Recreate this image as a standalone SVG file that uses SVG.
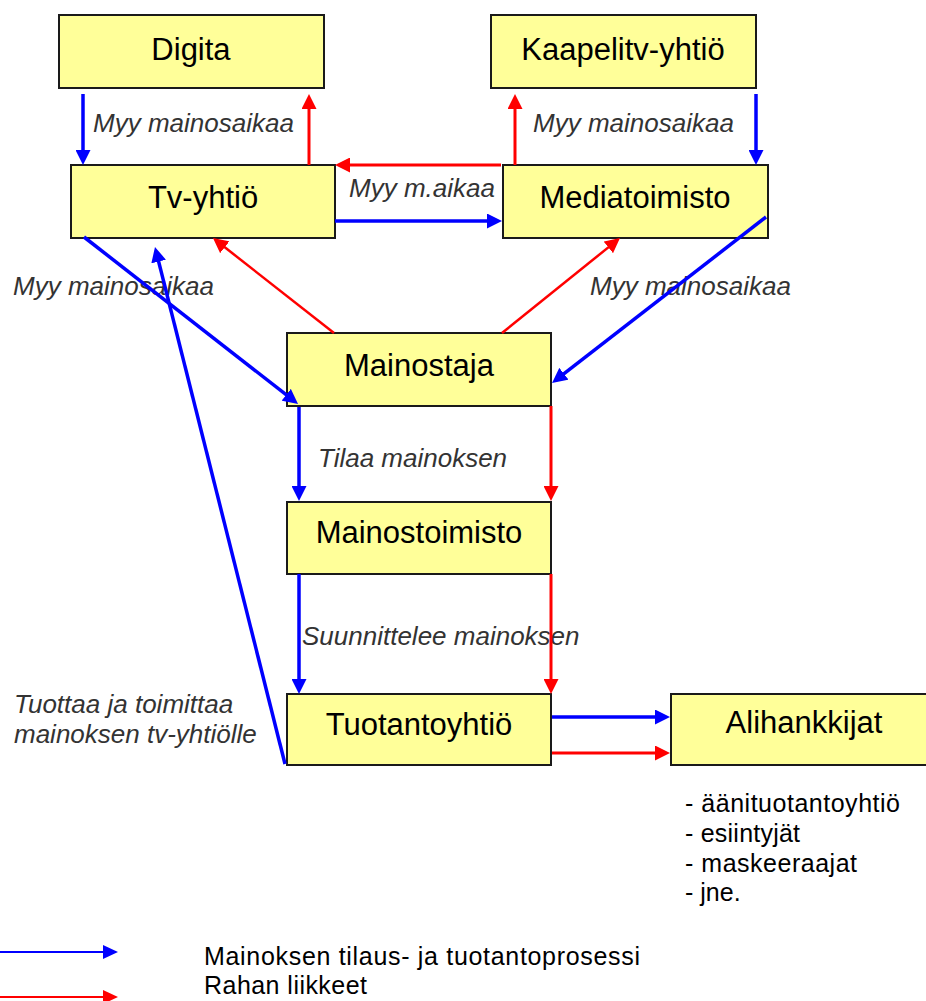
<svg xmlns="http://www.w3.org/2000/svg" width="926" height="1001" viewBox="0 0 926 1001">
<style>
.box{fill:#FFFF99;stroke:#1a1a1a;stroke-width:2}
.nl{font-family:"Liberation Sans",Arial,sans-serif;font-size:31px;fill:#000;text-anchor:middle}
.el{font-family:"Liberation Sans",Arial,sans-serif;font-size:26px;font-style:italic;fill:#333333}
.tx{font-family:"Liberation Sans",Arial,sans-serif;font-size:25px;fill:#000}
.b{stroke:#0000FF;stroke-width:3.5;fill:none;marker-end:url(#hb)}
.r{stroke:#FF0000;stroke-width:3;fill:none;marker-end:url(#hr)}
.rt{stroke:#FF0000;stroke-width:2.5;fill:none;marker-end:url(#hr)}
.lb{stroke:#0000FF;stroke-width:2;fill:none;marker-end:url(#lhb)}
.lr{stroke:#FF0000;stroke-width:2;fill:none;marker-end:url(#lhr)}
</style>
<defs>
<marker id="hb" markerUnits="userSpaceOnUse" markerWidth="15" markerHeight="15" refX="10" refY="7.5" orient="auto"><path d="M0,0 L15,7.5 L0,15 z" fill="#0000FF"/></marker>
<marker id="hr" markerUnits="userSpaceOnUse" markerWidth="15" markerHeight="15" refX="10" refY="7.5" orient="auto"><path d="M0,0 L15,7.5 L0,15 z" fill="#FF0000"/></marker>
<marker id="lhb" markerUnits="userSpaceOnUse" markerWidth="15" markerHeight="14" refX="10" refY="7" orient="auto"><path d="M0,0 L15,7 L0,14 z" fill="#0000FF"/></marker>
<marker id="lhr" markerUnits="userSpaceOnUse" markerWidth="15" markerHeight="14" refX="10" refY="7" orient="auto"><path d="M0,0 L15,7 L0,14 z" fill="#FF0000"/></marker>
</defs>
<rect width="926" height="1001" fill="#fff"/>
<g id="labels">
<text class="el" x="93" y="132">Myy mainosaikaa</text>
<text class="el" x="349" y="197">Myy m.aikaa</text>
<text class="el" x="533" y="132">Myy mainosaikaa</text>
<text class="el" x="13" y="295">Myy mainosaikaa</text>
<text class="el" x="590" y="295">Myy mainosaikaa</text>
<text class="el" x="318" y="467">Tilaa mainoksen</text>
<text class="el" x="302" y="645">Suunnittelee mainoksen</text>
<text class="el" x="14" y="713">Tuottaa ja toimittaa</text>
<text class="el" x="14" y="743">mainoksen tv-yhtiölle</text>
</g>
<g id="digita"><rect class="box" x="59" y="15" width="265" height="73"/><text class="nl" x="191" y="60">Digita</text></g>
<g id="kaapelitv"><rect class="box" x="491" y="15" width="265" height="73"/><text class="nl" x="623" y="60">Kaapelitv-yhtiö</text></g>
<g id="tvyhtio"><rect class="box" x="71" y="165" width="264" height="73"/><text class="nl" x="203" y="208">Tv-yhtiö</text></g>
<g id="mediatoimisto"><rect class="box" x="503" y="165" width="265" height="73"/><text class="nl" x="635" y="208">Mediatoimisto</text></g>
<g id="mainostaja"><rect class="box" x="287" y="333" width="264" height="73"/><text class="nl" x="419" y="376">Mainostaja</text></g>
<g id="mainostoimisto"><rect class="box" x="287" y="502" width="264" height="72"/><text class="nl" x="419" y="543">Mainostoimisto</text></g>
<g id="tuotantoyhtio"><rect class="box" x="287" y="694" width="264" height="71"/><text class="nl" x="419" y="735">Tuotantoyhtiö</text></g>
<g id="alihankkijat"><rect class="box" x="671" y="694" width="268" height="71"/><text class="nl" x="804" y="733">Alihankkijat</text></g>
<g id="connectors">
<path class="b" d="M83,94 L83,160"/>
<path class="b" d="M335,221 L497,221"/>
<path class="b" d="M756,94 L756,160"/>
<path class="b" d="M84,237 L294.1,400.9"/>
<path class="b" d="M766,217 L556,379.9"/>
<path class="b" d="M285,764 L156.2,251.8"/>
<path class="b" d="M299,407 L299,496"/>
<path class="b" d="M299,574 L299,689"/>
<path class="b" d="M552,717 L665,717"/>
<path class="r" d="M309,165 L309,99"/>
<path class="r" d="M501,165 L340,165"/>
<path class="r" d="M515,165 L515,99"/>
<path class="rt" d="M334,333 L216.9,241.1"/>
<path class="rt" d="M502,333 L616.1,241.1"/>
<path class="r" d="M551,406 L551,496"/>
<path class="r" d="M551,574 L551,689"/>
<path class="r" d="M552,753 L665,753"/>
</g>
<g id="list">
<text class="tx" x="685" y="812" textLength="215" lengthAdjust="spacing">- äänituotantoyhtiö</text>
<text class="tx" x="685" y="842" textLength="115" lengthAdjust="spacing">- esiintyjät</text>
<text class="tx" x="685" y="872" textLength="172" lengthAdjust="spacing">- maskeeraajat</text>
<text class="tx" x="685" y="901">- jne.</text>
</g>
<g id="legend">
<path class="lb" d="M0,952 L113,952"/>
<path class="lr" d="M0,997 L113,997"/>
<text class="tx" x="204" y="965" textLength="436" lengthAdjust="spacing">Mainoksen tilaus- ja tuotantoprosessi</text>
<text class="tx" x="204" y="994" textLength="163" lengthAdjust="spacing">Rahan liikkeet</text>
</g>
</svg>
